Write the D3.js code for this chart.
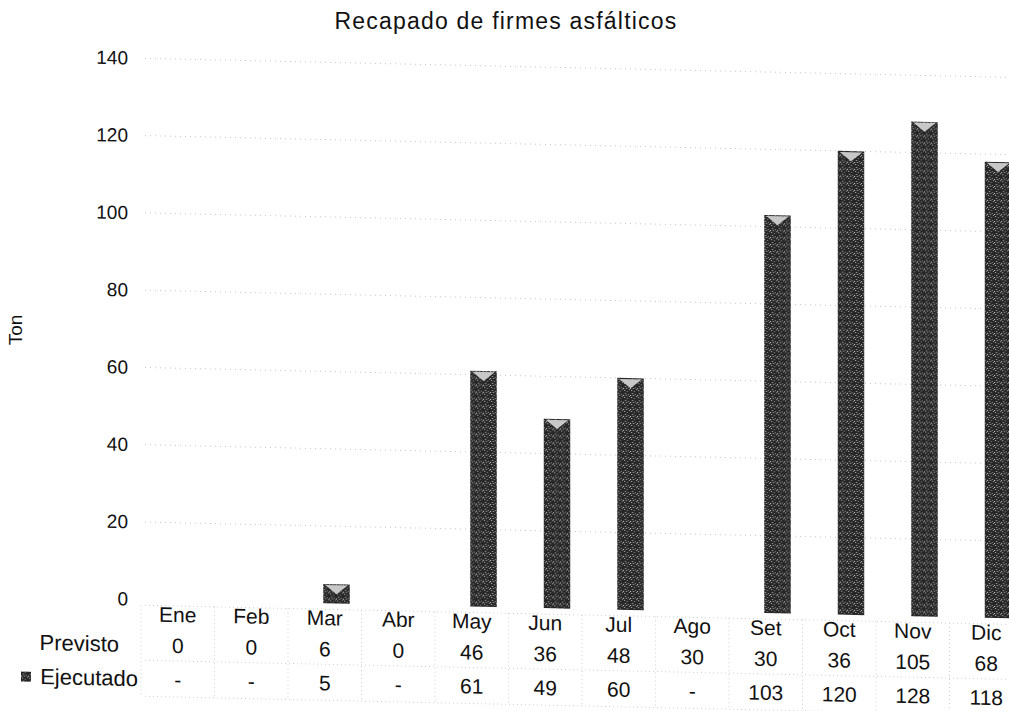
<!DOCTYPE html>
<html><head><meta charset="utf-8">
<script src="https://cdn.jsdelivr.net/npm/d3@7"></script>
<style>body{margin:0;background:#fff}svg{display:block}text{font-family:"Liberation Sans",Arial,sans-serif;fill:#111}</style>
</head><body>
<svg id="c" width="1009" height="711"></svg>
<script>
const months = ["Ene","Feb","Mar","Abr","May","Jun","Jul","Ago","Set","Oct","Nov","Dic"];
const previsto = [0,0,6,0,46,36,48,30,30,36,105,68];
const ejecutado = [null,null,5,null,61,49,60,null,103,120,128,118];
const yTicks = [0,20,40,60,80,100,120,140];
const seriesNames = ["Previsto","Ejecutado"];

const svg = d3.select("#c");
const defs = svg.append("defs");
// speckled texture for the scanned-looking bars
const pat = defs.append("pattern").attr("id","speck").attr("patternUnits","userSpaceOnUse")
  .attr("width",7).attr("height",7);
pat.append("rect").attr("width",7).attr("height",7).attr("fill","#262626");
[[1,1],[4,2],[2,4],[5,5],[0,6],[6,0],[3,6]].forEach(([a,b],i)=>{
  pat.append("rect").attr("x",a).attr("y",b).attr("width",1).attr("height",1)
    .attr("fill", i%2 ? "#9a9a9a" : "#d0d0d0");
});

// title and axis title (not tilted)
svg.append("text").attr("x",506).attr("y",29).attr("text-anchor","middle")
  .style("font-size","23px").style("letter-spacing","1.2px").text("Recapado de firmes asfálticos");
svg.append("text").attr("transform","translate(22,330) rotate(-90)").attr("text-anchor","middle")
  .style("font-size","19px").text("Ton");

// the scanned page is slightly tilted: skew the chart body
const tilt = 0.022, x0 = 130;
const body = svg.append("g")
  .attr("transform",`translate(0,${-tilt*x0}) skewY(${Math.atan(tilt)*180/Math.PI})`);

const x = d3.scaleBand().domain(months).range([141,1023]).padding(0);
const xs = d3.scaleBand().domain(seriesNames).range([-28,25]).padding(0);
const y = d3.scaleLinear().domain([0,140]).range([599,58]);

// gridlines
body.append("g").selectAll("line").data(yTicks.filter(d=>d>0)).join("line")
  .attr("x1",145).attr("x2",1009).attr("y1",d=>y(d)).attr("y2",d=>y(d))
  .attr("stroke","#c8c8c8").attr("stroke-width",1).attr("stroke-dasharray","1,4");

// y axis
const ya = body.append("g").attr("transform","translate(128,0)")
  .call(d3.axisLeft(y).tickValues(yTicks).tickSize(0).tickPadding(0));
ya.select(".domain").remove();
ya.selectAll("text").style("font-size","19px").style("font-family","Liberation Sans, Arial, sans-serif").attr("fill","#111");

// bars (Ejecutado)
const bw = xs.bandwidth();
const data = months.map((m,i)=>({m, v: ejecutado[i]})).filter(d=>d.v!==null);
const bx = d => x(d.m)+x.bandwidth()/2+xs("Ejecutado");
body.append("g").selectAll("rect").data(data).join("rect")
  .attr("x",bx).attr("width",bw)
  .attr("y",d=>y(d.v)).attr("height",d=>y(0)-y(d.v))
  .attr("fill","url(#speck)");
body.append("g").selectAll("path").data(data).join("path")
  .attr("d",d=>{const l=bx(d)+2, r=bx(d)+bw-2, t=y(d.v)+1;
    return `M${l},${t}L${r},${t}L${(l+r)/2},${t+Math.min(9,y(0)-y(d.v)-2)}Z`;})
  .attr("fill","#c8c8c8");

// data table
const rowY = {cat:621, prev:652, ejec:686};
const tbl = body.append("g");
const lineCol = "#cfcfcf";
[605,660,696].forEach(yy=>{
  tbl.append("line").attr("x1",145).attr("x2",1009).attr("y1",yy).attr("y2",yy)
    .attr("stroke",lineCol).attr("stroke-dasharray","1,3");
});
months.forEach(m=>{
  tbl.append("line").attr("x1",x(m)).attr("x2",x(m)).attr("y1",605).attr("y2",696)
    .attr("stroke",lineCol).attr("stroke-dasharray","1,3");
});
tbl.selectAll("text.cat").data(months).join("text").attr("class","cat")
  .attr("x",d=>x(d)+x.bandwidth()/2).attr("y",rowY.cat).attr("text-anchor","middle")
  .style("font-size","21px").text(d=>d);
tbl.selectAll("text.prev").data(previsto).join("text").attr("class","prev")
  .attr("x",(d,i)=>x(months[i])+x.bandwidth()/2).attr("y",rowY.prev).attr("text-anchor","middle")
  .style("font-size","21px").text(d=>d);
tbl.selectAll("text.ejec").data(ejecutado).join("text").attr("class","ejec")
  .attr("x",(d,i)=>x(months[i])+x.bandwidth()/2).attr("y",rowY.ejec).attr("text-anchor","middle")
  .style("font-size","21px").text(d=>d===null?"-":d);
tbl.append("text").attr("x",119).attr("y",rowY.prev).attr("text-anchor","end")
  .style("font-size","22px").text(seriesNames[0]);
tbl.append("text").attr("x",138).attr("y",rowY.ejec).attr("text-anchor","end")
  .style("font-size","22px").text(seriesNames[1]);
tbl.append("rect").attr("x",21).attr("y",674).attr("width",10).attr("height",10).attr("fill","url(#speck)");
</script>
</body></html>
